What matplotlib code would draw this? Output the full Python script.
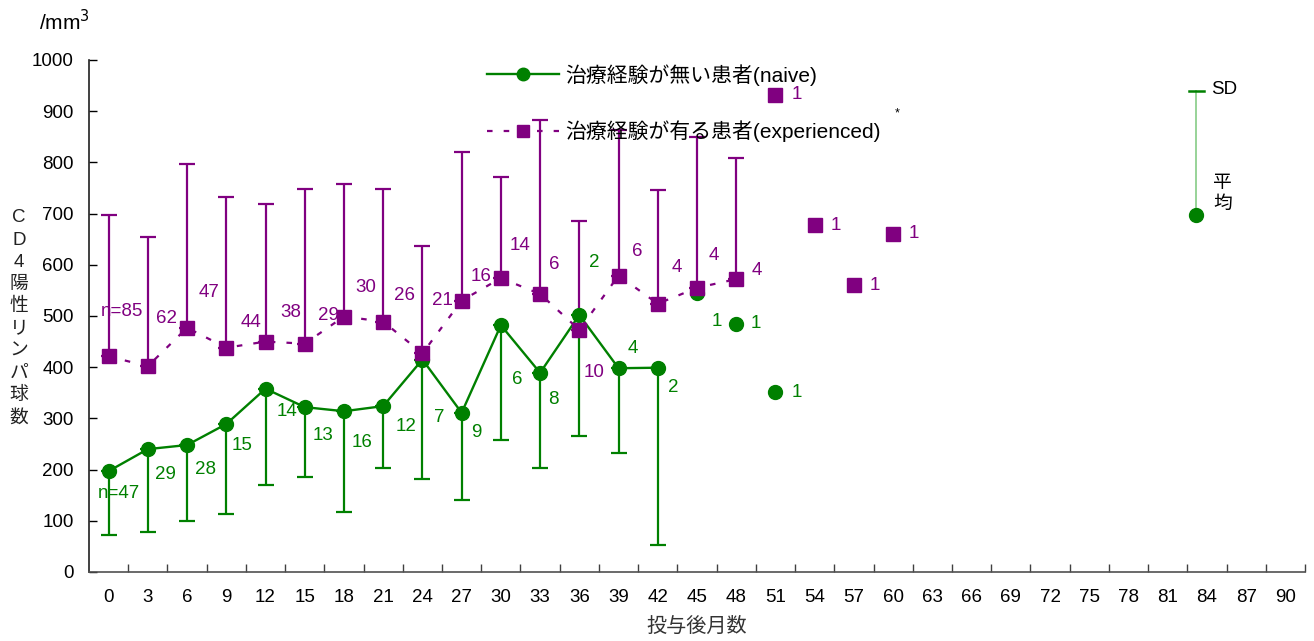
import matplotlib
matplotlib.use("Agg")
import matplotlib.pyplot as plt
import numpy as np
from matplotlib.lines import Line2D

plt.rcParams['font.family'] = ['Liberation Sans', 'Noto Sans CJK JP', 'DejaVu Sans']

# ---------------- data ----------------
month_ticks = [0, 3, 6, 9, 12, 15, 18, 21, 24, 27, 30, 33, 36, 39, 42, 45,
               48, 51, 54, 57, 60, 63, 66, 69, 72, 75, 78, 81, 84, 87, 90]

# treatment-naive patients (green)
naive_months = [0, 3, 6, 9, 12, 15, 18, 21, 24, 27, 30, 33, 36, 39, 42, 45, 48, 51]
naive_mean = [197, 240, 248, 289, 358, 322, 314, 324, 415, 311, 482, 389, 502, 398, 399, 545, 485, 351]
naive_sd_low = [73, 79, 100, 113, 170, 185, 118, 204, 182, 140, 257, 204, 266, 232, 52, None, None, None]
naive_n = ['n=47', '29', '28', '15', '14', '13', '16', '12', '7', '9', '6', '8', '2', '4', '2', '1', '1', '1']
naive_connected = 15   # points joined by the line (0..42)

# treatment-experienced patients (purple)
exp_months = [0, 3, 6, 9, 12, 15, 18, 21, 24, 27, 30, 33, 36, 39, 42, 45, 48, 51, 54, 57, 60]
exp_mean = [421, 402, 477, 438, 450, 446, 499, 489, 427, 530, 574, 543, 473, 579, 524, 555, 572, 932, 677, 560, 661]
exp_sd_high = [697, 655, 797, 732, 718, 748, 757, 749, 637, 820, 771, 883, 686, 863, 746, 849, 809, None, None, None, None]
exp_n = ['n=85', '62', '47', '44', '38', '29', '30', '26', '21', '16', '14', '6', '10', '6', '4', '4', '4', '1', '1', '1', '1']
exp_connected = 17     # points joined by the line (0..48)

# label offsets (pixels) for the n annotations
naive_off = [(10, -22), (18, -25), (18, -24), (16, -21), (21, -23), (18, -28), (18, -31), (23, -20),
             (17, -58), (15, -20), (16, -54), (13, -27), (15, 52), (14, 20), (15, -20), (20, -29),
             (20, 0), (21, 0)]
exp_off = [(13, 45), (19, 48), (22, 35), (25, 25), (25, 29), (24, 28), (22, 29), (21, 26), (20, 53),
           (19, 24), (19, 33), (14, 29), (15, -43), (19, 24), (19, 36), (17, 32), (21, 9),
           (21, 0), (21, 0), (21, 0), (21, 0)]

GREEN = '#008000'
PURPLE = '#800080'
FS = 13.5

fig = plt.figure(figsize=(13.14, 6.41), dpi=100)
ax = fig.add_axes([89 / 1314, 1 - 572 / 641, (1305 - 89) / 1314, (572 - 60) / 641])

# ---------------- naive ----------------
nm = np.array(naive_months, dtype=float)
nmean = np.array(naive_mean, dtype=float)
nlow = np.array([np.nan if v is None else v for v in naive_sd_low], dtype=float)
ax.plot(nm[:naive_connected], nmean[:naive_connected], color=GREEN, lw=1.7, zorder=3)
has = ~np.isnan(nlow)
ax.errorbar(nm[has], nmean[has], yerr=[nmean[has] - nlow[has], np.zeros(has.sum())],
            fmt='none', ecolor=GREEN, elinewidth=1.6, capsize=6, capthick=1.6, zorder=2)
ax.plot(nm, nmean, 'o', color=GREEN, ms=10, zorder=4, lw=0)

# ---------------- experienced ----------------
em = np.array(exp_months, dtype=float)
emean = np.array(exp_mean, dtype=float)
ehigh = np.array([np.nan if v is None else v for v in exp_sd_high], dtype=float)
ax.plot(em[:exp_connected], emean[:exp_connected], color=PURPLE, lw=1.6,
        ls=(0, (2.5, 5)), zorder=3)
has = ~np.isnan(ehigh)
ax.errorbar(em[has], emean[has], yerr=[np.zeros(has.sum()), ehigh[has] - emean[has]],
            fmt='none', ecolor=PURPLE, elinewidth=1.6, capsize=6, capthick=1.6, zorder=2)
ax.plot(em, emean, 's', color=PURPLE, ms=9.5, zorder=4, lw=0)

# ---------------- n labels ----------------
for x, y, t, off in zip(naive_months, naive_mean, naive_n, naive_off):
    ax.annotate(t, (x, y), xytext=off, textcoords='offset pixels', ha='center', va='center',
                color=GREEN, fontsize=FS, zorder=5)
for x, y, t, off in zip(exp_months, exp_mean, exp_n, exp_off):
    ax.annotate(t, (x, y), xytext=off, textcoords='offset pixels', ha='center', va='center',
                color=PURPLE, fontsize=FS, zorder=5)

# ---------------- axes styling ----------------
ax.set_xlim(-1.5, 91.5)
ax.set_ylim(0, 1000)
ax.set_xticks(month_ticks)
ax.set_xticklabels([str(m) for m in month_ticks], fontsize=FS)
ax.set_xticks([m + 1.5 for m in month_ticks], minor=True)
ax.tick_params(axis='x', which='major', length=0, pad=12)
ax.tick_params(axis='x', which='minor', direction='in', length=6, width=1, color='#404040')
ax.set_yticks(range(0, 1001, 100))
ax.tick_params(axis='y', which='major', direction='in', length=6, width=1, labelsize=FS, pad=11)
for s in ['top', 'right']:
    ax.spines[s].set_visible(False)
ax.spines['left'].set_color('#202020')
ax.spines['bottom'].set_color('#505050')
ax.spines['left'].set_linewidth(1.2)
ax.spines['bottom'].set_linewidth(1.2)

# axis labels
fig.text(697 / 1314, 1 - 626 / 641, '投与後月数', ha='center', va='center', fontsize=14.5, color='#333333')
fig.text(19 / 1314, 1 - 318 / 641, '\n'.join(['C', 'D', '4', '陽', '性', 'リ', 'ン', 'パ', '球', '数']),
         ha='center', va='center', fontsize=FS, linespacing=1.4, color='#222222')
fig.text(39 / 1314, 1 - 22 / 641, '/mm$^3$', ha='left', va='center', fontsize=15)

# ---------------- legend ----------------
handles = [Line2D([], [], color=GREEN, lw=1.7, marker='o', ms=9),
           Line2D([], [], color=PURPLE, lw=1.6, ls=(0, (2.5, 5)), marker='s', ms=9)]
labels = ['治療経験が無い患者(naive)', '治療経験が有る患者(experienced)']
leg = fig.legend(handles, labels, loc='upper left', bbox_to_anchor=(487 / 1314, 1 - 64 / 641),
                 frameon=False, fontsize=15, handlelength=3.45, handletextpad=0.3,
                 labelspacing=1.68, borderpad=0, borderaxespad=0, numpoints=1)
fig.text(897 / 1314, 1 - 113 / 641, '*', ha='center', va='center', fontsize=9)

# ---------------- SD / mean key ----------------
kx = 83.2
ax.plot([kx, kx], [697, 940], color='#90d090', lw=1.3, zorder=2)
ax.plot([kx - 0.6, kx + 0.6], [940, 940], color=GREEN, lw=1.8, zorder=3)
ax.plot([kx], [697], 'o', color=GREEN, ms=10, zorder=4)
ax.annotate('SD', (kx, 940), xytext=(15, 1), textcoords='offset pixels', ha='left', va='center',
            fontsize=FS)
ax.annotate('平\n均', (kx, 697), xytext=(26, 21), textcoords='offset pixels', ha='center', va='center',
            fontsize=FS, linespacing=1.3)

fig.savefig('out.png', dpi=100)
